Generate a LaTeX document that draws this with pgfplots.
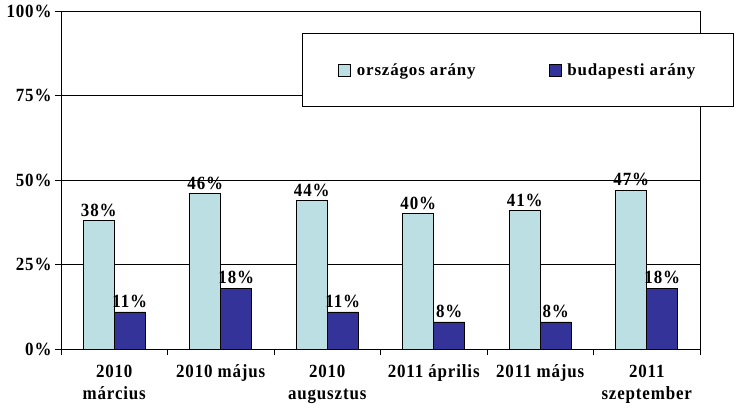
\documentclass[border=0pt]{standalone}
\usepackage{pgfplots}
\pgfplotsset{compat=1.18}
\usepackage{fontspec}
\setmainfont{Liberation Serif}[LetterSpace=5]
\definecolor{lblue}{RGB}{188,223,227}
\definecolor{dblue}{RGB}{51,51,153}
\newcommand{\lf}{\fontsize{17}{20}\selectfont\bfseries}
\begin{document}
\begin{tikzpicture}
\begin{axis}[
  at={(61bp,65bp)}, anchor=south west,
  scale only axis, width=639bp, height=338bp,
  ybar=0pt, bar width=31bp,
  ymin=0, ymax=100, ytick={0,25,50,75,100},
  yticklabel={\pgfmathprintnumber{\tick}\%},
  xmin=-0.5, xmax=5.5,
  xtick={-0.5,0.5,...,5.5},
  x tick label as interval,
  xticklabels={{2010\\március},{2010 május},{2010\\augusztus},{2011 április},{2011 május},{2011\\szeptember}},
  x tick label style={align=center, font=\lf, yshift=-6bp, yscale=1.1},
  y tick label style={font=\lf, yscale=1.1},
  /pgf/number format/assume math mode=true,
  tick align=outside, major tick length=6bp,
  tick pos=left,
  tick style={black, line width=0.8pt},
  axis line style={black, line width=0.8pt},
  ymajorgrids, grid style={black, line width=0.8pt},
  nodes near coords={\pgfmathprintnumber{\pgfplotspointmeta}\%},
  every node near coord/.append style={font=\lf, black, yscale=1.1},
  legend columns=2,
  legend style={at={(rel axis cs:1.053,0.935)}, anchor=north east, draw=black, line width=0.8pt,
    font=\lf, inner xsep=36bp, inner ysep=28bp,
    /tikz/every odd column/.append style={column sep=4bp},
    /tikz/every even column/.append style={column sep=71bp}},
  legend image code/.code={\path[#1, draw=black, line width=0.6pt] (0bp,-6bp) rectangle (12bp,6bp);},
]
\addplot[fill=lblue, draw=black, line width=0.6pt] coordinates {(0,38) (1,46) (2,44) (3,40) (4,41) (5,47)};
\addplot[fill=dblue, draw=black, line width=0.6pt] coordinates {(0,11) (1,18) (2,11) (3,8) (4,8) (5,18)};
\legend{országos arány, budapesti arány}
\end{axis}
\pgfresetboundingbox
\path (0,0) rectangle (742bp,414bp);
\end{tikzpicture}
\end{document}
